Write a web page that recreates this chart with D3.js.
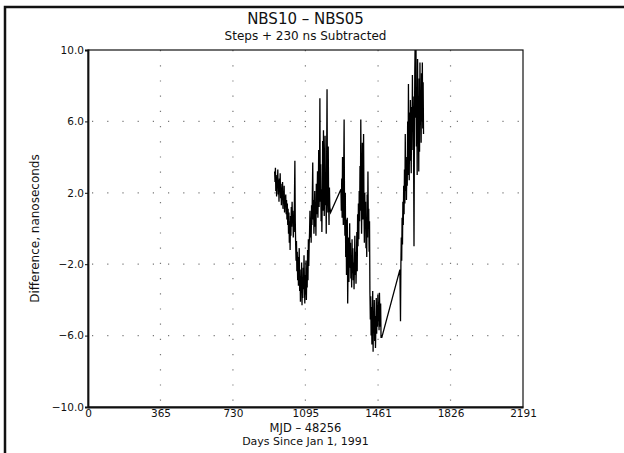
<!DOCTYPE html>
<html>
<head>
<meta charset="utf-8">
<script src="https://cdn.jsdelivr.net/npm/d3@7"></script>
<style>
  body { margin: 0; background: #fff; }
  text { font-family: "DejaVu Sans", sans-serif; fill: #111; }
</style>
</head>
<body>
<div class="chart"></div>
<script>
var svgWidth = 624;
var svgHeight = 453;

var margin = { top: 50, right: 101, bottom: 46, left: 88 };
var width = svgWidth - margin.left - margin.right;
var height = svgHeight - margin.top - margin.bottom;

// tick values
var xTicks = [0, 365, 730, 1095, 1461, 1826, 2191];
var yTicks = [-10, -6, -2, 2, 6, 10];

// days since MJD 48256
var days = [
  940, 942, 944, 946, 948, 950, 952, 954, 956, 958, 960, 962, 964, 966, 968, 970, 972, 974, 976, 978,
  980, 982, 984, 986, 988, 990, 992, 994, 996, 998, 1000, 1002, 1004, 1006, 1008, 1010, 1012, 1014, 1016, 1018,
  1020, 1022, 1024, 1026, 1028, 1030, 1032, 1034, 1036, 1038, 1040, 1042, 1044, 1046, 1048, 1050, 1052, 1054, 1056, 1058,
  1060, 1062, 1064, 1066, 1068, 1070, 1072, 1074, 1076, 1078, 1080, 1082, 1084, 1086, 1088, 1090, 1092, 1094, 1096, 1098,
  1100, 1102, 1104, 1106, 1108, 1110, 1112, 1114, 1116, 1118, 1120, 1122, 1124, 1126, 1128, 1130, 1132, 1134, 1136, 1138,
  1140, 1142, 1144, 1146, 1148, 1150, 1152, 1154, 1156, 1158, 1160, 1162, 1164, 1166, 1168, 1170, 1172, 1174, 1176, 1178,
  1180, 1182, 1184, 1186, 1188, 1190, 1192, 1194, 1196, 1198, 1200, 1202, 1204, 1206, 1208, 1210, 1212, 1214, 1216, 1218,
  1222, 1274, 1276, 1278, 1280, 1282, 1284, 1286, 1288, 1290, 1292, 1294, 1296, 1298, 1300, 1302, 1304, 1306, 1308,
  1310, 1312, 1314, 1316, 1318, 1320, 1322, 1324, 1326, 1328, 1330, 1332, 1334, 1336, 1338, 1340, 1342, 1344, 1346, 1348,
  1350, 1352, 1354, 1356, 1358, 1360, 1362, 1364, 1366, 1368, 1370, 1372, 1374, 1376, 1378, 1380, 1382, 1384, 1386, 1388,
  1390, 1392, 1394, 1396, 1398, 1400, 1402, 1404, 1406, 1408, 1410, 1412, 1414, 1416, 1418,
  1420, 1422, 1424, 1426, 1428, 1430, 1432, 1434, 1436, 1438, 1440, 1442, 1444, 1446, 1448, 1450, 1452, 1454, 1456, 1458,
  1460, 1462, 1464, 1466, 1468, 1470, 1472, 1474, 1476, 1480,
  1571, 1574, 1576, 1578, 1580, 1582, 1584, 1586, 1588, 1590, 1592, 1594, 1596, 1598, 1600, 1602, 1604, 1606, 1608,
  1610, 1612, 1614, 1616, 1618, 1620, 1622, 1624, 1626, 1628, 1630, 1632, 1634, 1636, 1638, 1640, 1642, 1644, 1646, 1648,
  1650, 1652, 1654, 1656, 1658, 1660, 1662, 1664, 1666, 1668, 1670, 1672, 1674, 1676, 1678, 1680, 1682, 1684, 1686, 1688, 1690
];

// difference, ns
var diffNs = [
  3.2, 2.6, 3.4, 2.1, 3.0, 1.8, 2.9, 2.4, 3.3, 1.9, 2.7, 1.5, 2.8, 2.2, 3.1, 1.7, 2.5, 1.3, 2.3, 1.6,
  2.6, 1.1, 2.0, 1.4, 2.4, 0.9, 1.8, 1.2, 1.9, 0.8, 1.6, 0.5, 1.4, 0.2, 1.1, -0.3, 0.9, -0.8, 0.4, -1.2,
  0.7, -0.4, 1.2, 0.1, 1.5, 0.3, 1.0, -0.5, 0.6, -0.2, 1.8, 3.8, 0.4, -0.9, -1.8, -0.7, -2.4, -1.3, -2.9, -1.6,
  -3.2, -2.0, -1.1, -3.5, -2.3, -4.1, -2.7, -3.6, -1.9, -4.3, -2.8, -3.9, -2.2, -3.4, -1.5, -3.0, -4.2, -2.6, -3.7, -1.8,
  -4.0, -2.4, -3.3, -1.2, -2.9, -0.6, -2.1, -0.9, -0.2, 1.0, -0.5, 0.6, -0.8, 1.3, 0.2, 1.9, 3.7, 0.5, 1.6, -0.3,
  0.9, 2.1, 0.1, 1.4, -0.4, 2.5, 0.8, 1.7, 3.2, 0.6, 2.0, 4.4, 1.2, 2.7, 7.3, 1.5, 3.6, 0.4, 2.2, -0.2,
  1.8, 4.9, 1.0, 5.5, 2.4, 0.7, 3.1, 5.2, 1.3, 2.6, -0.3, 3.9, 7.8, 2.0, 0.9, 4.6, 1.6, 0.2, 2.3, 1.2,
  0.9, 2.2, 1.0, 2.8, 0.6, 4.0, 1.5, 0.2, 3.3, 6.1, 1.1, -0.4, 2.0, -1.6, 0.5, -2.6, -1.0, 0.6, -4.2,
  -2.1, -0.5, -3.0, -1.4, 0.3, -2.2, -0.8, -2.8, -1.7, -3.3, -0.6, -2.5, -1.1, -2.9, -1.9, -3.4, -2.0, -0.4, -2.6, -1.3,
  -3.1, -1.8, -0.2, -2.4, 0.8, -1.0, 1.4, -0.6, 2.1, 0.4, 3.5, 1.0, 6.1, 2.2, -0.3, 1.7, 4.8, 0.5, 2.6, 5.3,
  1.2, -0.8, 2.0, 0.1, 1.5, -1.1, 0.6, -1.6, 1.9, -0.5, 3.2, 0.2, 1.1, -1.3, 0.4,
  -3.6, -5.1, -3.8, -6.0, -4.4, -6.5, -5.0, -3.5, -6.9, -4.7, -5.8, -4.0, -6.3, -4.9, -6.7, -5.4, -3.9, -5.9, -4.3, -5.5,
  -3.7, -5.2, -4.1, -5.7, -3.6, -4.8, -5.5, -4.2, -6.1, -6.1,
  -2.3, -5.2, -2.0, -0.5, -1.8, 0.6, -0.9, 1.5, 0.2, 2.4, 0.8, 3.3, 1.4, 5.3, 2.1, 4.0, 1.6, 3.6, 2.4,
  6.0, 3.0, 8.1, 4.2, 2.7, 6.5, 3.8, 7.2, 4.9, 3.1, 6.8, 4.4, 8.6, 5.5, 7.4, 3.9, -1.0, 5.0, 8.8, 10.6,
  6.2, 10.3, 4.6, 7.9, 3.0, 9.5, 5.1, 6.9, 3.2, 8.4, 4.3, 9.3, 5.8, 7.6, 4.8, 8.7, 6.0, 9.3, 5.6, 8.2, 5.3
];

var data = days.map(function(d, i) { return { day: d, value: diffNs[i] }; });

var svg = d3.select(".chart")
  .append("svg")
  .attr("width", svgWidth)
  .attr("height", svgHeight);

// outer frame (top and left edges only)
svg.append("path")
  .attr("d", "M5,453 L5,7 L624,7")
  .attr("fill", "none")
  .attr("stroke", "#111")
  .attr("stroke-width", 2.5);

var chartGroup = svg.append("g")
  .attr("transform", `translate(${margin.left}, ${margin.top})`);

var xScale = d3.scaleLinear().domain([0, 2191]).range([0, width]);
var yScale = d3.scaleLinear().domain([-10, 10]).range([height, 0]);

// dotted grid
chartGroup.append("g")
  .selectAll("line")
  .data(xTicks.slice(1, -1))
  .enter()
  .append("line")
  .attr("x1", d => xScale(d)).attr("x2", d => xScale(d))
  .attr("y1", 0).attr("y2", height)
  .attr("stroke", "#777")
  .attr("stroke-width", 1.2)
  .attr("stroke-dasharray", "1.2,14");

chartGroup.append("g")
  .selectAll("line")
  .data(yTicks.slice(1, -1))
  .enter()
  .append("line")
  .attr("x1", 4).attr("x2", width)
  .attr("y1", d => yScale(d)).attr("y2", d => yScale(d))
  .attr("stroke", "#777")
  .attr("stroke-width", 1.2)
  .attr("stroke-dasharray", "1.2,14");

// data line
chartGroup.append("clipPath").attr("id", "plotClip")
  .append("rect").attr("width", width).attr("height", height);

var line = d3.line().x(d => xScale(d.day)).y(d => yScale(d.value));

chartGroup.append("path")
  .datum(data)
  .attr("clip-path", "url(#plotClip)")
  .attr("d", line)
  .attr("fill", "none")
  .attr("stroke", "#000")
  .attr("stroke-width", 1.3)
  .attr("stroke-linejoin", "miter");

// frame
chartGroup.append("rect")
  .attr("width", width).attr("height", height)
  .attr("fill", "none")
  .attr("stroke", "#111")
  .attr("stroke-width", 1.2);

// axes
var bottomAxis = d3.axisBottom(xScale).tickValues(xTicks).tickSize(0).tickPadding(3)
  .tickFormat(d3.format("d"));
var leftAxis = d3.axisLeft(yScale).tickValues(yTicks).tickSize(3).tickPadding(1)
  .tickFormat(d3.format(".1f"));

var xAxisG = chartGroup.append("g")
  .attr("transform", `translate(0,${height})`)
  .call(bottomAxis);
var yAxisG = chartGroup.append("g").call(leftAxis);

[xAxisG, yAxisG].forEach(function(g) {
  g.select(".domain").attr("stroke", "#111").attr("stroke-width", 1.8);
  g.selectAll("text")
    .style("font-family", "DejaVu Sans, sans-serif")
    .style("font-size", "10.5px")
    .attr("fill", "#111");
  g.selectAll(".tick line").attr("stroke", "#111");
});

// titles
svg.append("text")
  .attr("x", margin.left + width / 2).attr("y", 24)
  .attr("text-anchor", "middle")
  .style("font-size", "15px")
  .text("NBS10 \u2013 NBS05");

svg.append("text")
  .attr("x", margin.left + width / 2).attr("y", 40)
  .attr("text-anchor", "middle")
  .style("font-size", "12px")
  .text("Steps + 230 ns Subtracted");

svg.append("text")
  .attr("x", margin.left + width / 2).attr("y", 432)
  .attr("text-anchor", "middle")
  .style("font-size", "11.5px")
  .text("MJD \u2013 48256");

svg.append("text")
  .attr("x", margin.left + width / 2).attr("y", 445)
  .attr("text-anchor", "middle")
  .style("font-size", "11px")
  .text("Days Since Jan 1, 1991");

svg.append("text")
  .attr("transform", `translate(39, ${margin.top + height / 2}) rotate(-90)`)
  .attr("text-anchor", "middle")
  .style("font-size", "12px")
  .text("Difference, nanoseconds");
</script>
</body>
</html>
